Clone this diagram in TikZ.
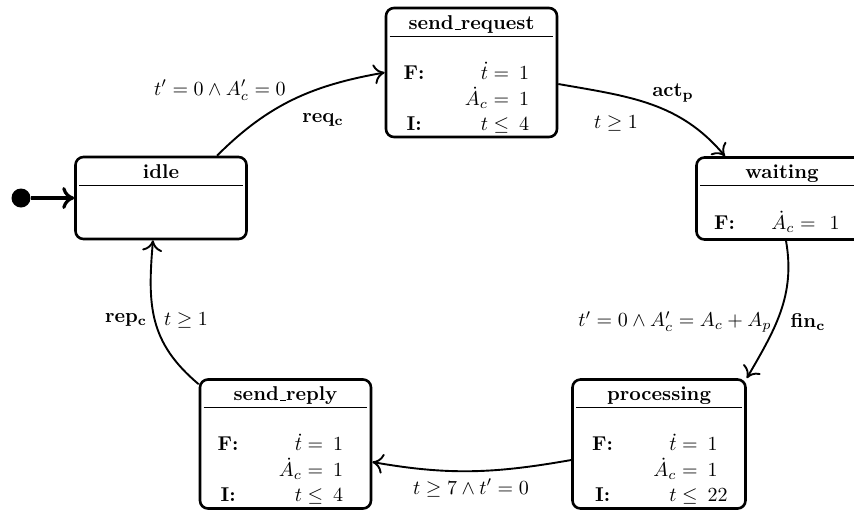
\documentclass[tikz,border=0pt]{standalone}
\usetikzlibrary{arrows.meta}
\newcommand{\frow}[3]{\makebox[11pt][c]{#1}\makebox[42pt][r]{#2}\hspace{5pt}#3}
\newcommand{\usc}{\kern.06em\vbox{\hrule width.3em}}
\renewcommand{\arraystretch}{1.04}
\begin{document}
\begin{tikzpicture}[x=0.5pt,y=0.5pt,
  state/.style={draw, rounded corners=4pt, line width=1.3pt, minimum width=85.5pt, inner sep=0pt},
  tall/.style={state, minimum height=64.5pt},
  short/.style={state, minimum height=41pt},
  title/.style={font=\bfseries, inner sep=0pt, text height=6.9pt, text depth=1.9pt},
  rule/.style={line width=0.45pt},
  body/.style={anchor=north west, inner sep=0pt},
  edge/.style={-{To[length=5.5pt,width=10pt]}, line width=0.95pt},
  lbl/.style={inner sep=0pt}]
\useasboundingbox (0,0) rectangle (854,-511);

% states
\node[tall] (sendreq) at (471.5,-72.5) {};
\node[short] (idle) at (161,-198) {};
\node[short] (waiting) at (782,-198.5) {};
\node[tall, minimum width=86.5pt] (proc) at (659,-444) {};
\node[tall] (sendrep) at (285.5,-444) {};

% titles and rules
\foreach \s/\t in {sendreq/send\usc request, idle/idle, waiting/waiting, proc/processing, sendrep/send\usc reply}{
  \node[title] (\s-title) at ([yshift=-8.8pt]\s.north) {\t};
  \draw[rule] ([xshift=2.5pt,yshift=-14.8pt]\s.north west) -- ([xshift=-2.5pt,yshift=-14.8pt]\s.north east);
}

% bodies
\node[body] (sendreq-body) at ([xshift=9pt,yshift=-27.3pt]sendreq.north west)
  {\begin{tabular}{@{}l@{}}\frow{\textbf{F:}}{$\dot t =$}{1}\\ \frow{}{$\dot A_c =$}{1}\\ \frow{\textbf{I:}}{$t \leq$}{4}\end{tabular}};
\node[body] (waiting-body) at ([xshift=9pt,yshift=-27.3pt]waiting.north west)
  {\begin{tabular}{@{}l@{}}\makebox[11pt][c]{\textbf{F:}}\makebox[40pt][r]{$\dot A_c =$}\hspace{7pt}1\end{tabular}};
\node[body] (proc-body) at ([xshift=10pt,yshift=-27.3pt]proc.north west)
  {\begin{tabular}{@{}l@{}}\frow{\textbf{F:}}{$\dot t =$}{1}\\ \frow{}{$\dot A_c =$}{1}\\ \frow{\textbf{I:}}{$t \leq$}{22}\end{tabular}};
\node[body] (sendrep-body) at ([xshift=9pt,yshift=-27.3pt]sendrep.north west)
  {\begin{tabular}{@{}l@{}}\frow{\textbf{F:}}{$\dot t =$}{1}\\ \frow{}{$\dot A_c =$}{1}\\ \frow{\textbf{I:}}{$t \leq$}{4}\end{tabular}};

% initial
\node[circle, fill, minimum size=9.5pt, inner sep=0pt] (init) at (21,-198) {};
\draw[-{To[length=6pt,width=11pt]}, line width=1.6pt] (init) -- (idle);

% transitions
\draw[edge] ([xshift=28pt]idle.north) to[out=45,in=190] (sendreq.west);
\draw[edge] ([yshift=-5.75pt]sendreq.east) to[out=-10,in=130] ([xshift=-28.5pt]waiting.north);
\draw[edge] ([xshift=2pt]waiting.south) to[out=-80,in=60] (proc.north east);
\draw[edge] ([yshift=-8pt]proc.west) to[out=190,in=-10] ([yshift=-9pt]sendrep.east);
\draw[edge] ([yshift=-3pt]sendrep.north west) to[out=140,in=-95,looseness=1.1] ([xshift=-4pt]idle.south);

% labels
\node[lbl] (l1a) at (220,-90) {$t' = 0 \wedge A'_c = 0$};
\node[lbl] (l1b) at (323,-120) {$\mathbf{req_c}$};
\node[lbl] (l2a) at (673,-93) {$\mathbf{act_p}$};
\node[lbl] (l2b) at (616,-123) {$t \geq 1$};
\node[lbl] (l3a) at (675,-322) {$t' = 0 \wedge A'_c = A_c + A_p$};
\node[lbl] (l3b) at (808,-322) {$\mathbf{fin_c}$};
\node[lbl] (l4) at (471,-488) {$t \geq 7 \wedge t' = 0$};
\node[lbl] (l5a) at (126,-320) {$\mathbf{rep_c}$};
\node[lbl] (l5b) at (186,-320) {$t \geq 1$};
\end{tikzpicture}
\end{document}
